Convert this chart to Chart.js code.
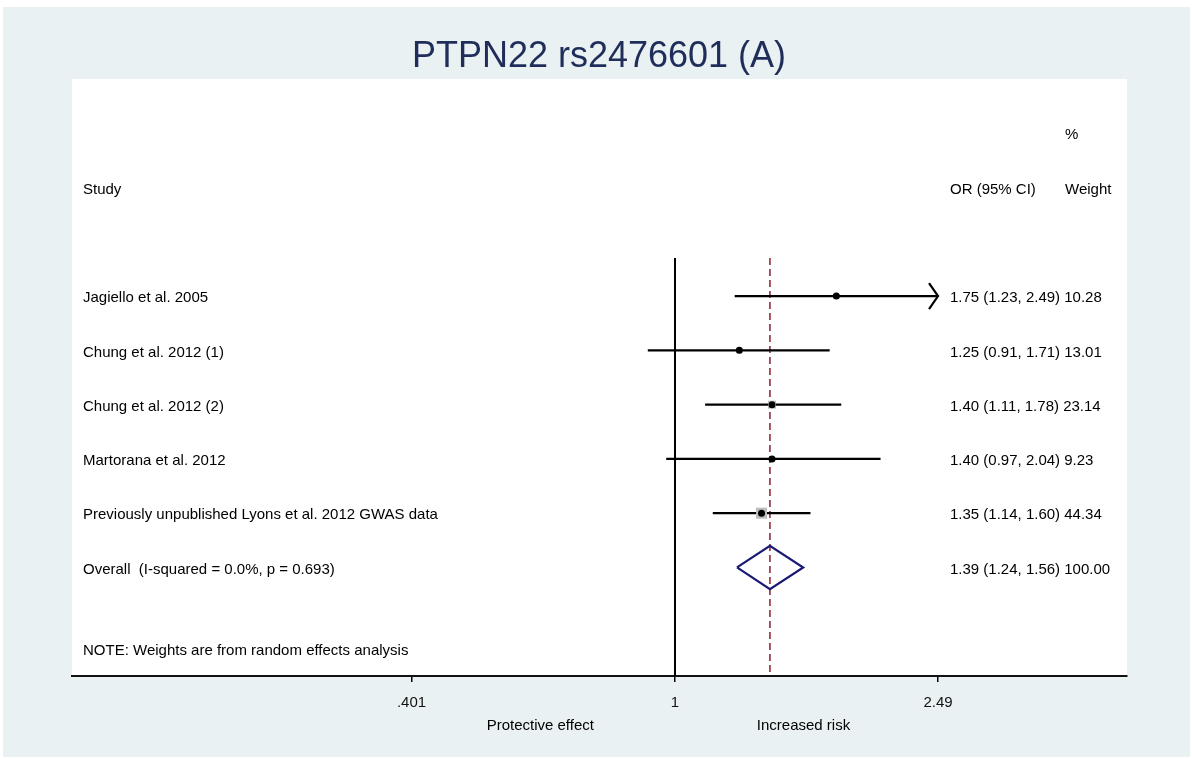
<!DOCTYPE html>
<html>
<head>
<meta charset="utf-8">
<title>PTPN22 rs2476601 (A)</title>
<script src="https://cdn.jsdelivr.net/npm/chart.js@4.4.1/dist/chart.umd.min.js"></script>
<style>
  html, body { margin: 0; padding: 0; background: #fff; }
  canvas { display: block; }
</style>
</head>
<body>
<canvas id="forest" width="1192" height="758"></canvas>
<script>
// study rows, top to bottom
const studies = [
  "Jagiello et al. 2005",
  "Chung et al. 2012 (1)",
  "Chung et al. 2012 (2)",
  "Martorana et al. 2012",
  "Previously unpublished Lyons et al. 2012 GWAS data"
]
const orEst = [1.75, 1.25, 1.40, 1.40, 1.35]
const ciLow = [1.23, 0.91, 1.11, 0.97, 1.14]
const ciHigh = [2.49, 1.71, 1.78, 2.04, 1.60]
const weights = [10.28, 13.01, 23.14, 9.23, 44.34]

const overallLabel = "Overall  (I-squared = 0.0%, p = 0.693)"
const overallEst = 1.39
const overallLow = 1.24
const overallHigh = 1.56

const tickValues = [0.401, 1, 2.49]
const tickLabels = [".401", "1", "2.49"]

const FONT = '"Liberation Sans", Arial, Helvetica, sans-serif'

function fmt(v) { return v.toFixed(2) }

// rows: 1..5 studies, 6 overall
const rowOf = (i) => i + 1
const overallRow = studies.length + 1

const datasets = []

// confidence interval lines
studies.forEach((s, i) => {
  datasets.push({
    data: [{ x: ciLow[i], y: rowOf(i) }, { x: ciHigh[i], y: rowOf(i) }],
    showLine: true,
    borderColor: '#000',
    borderWidth: 2.2,
    pointRadius: 0,
    order: 3
  })
})

// weight boxes (area proportional to weight)
datasets.push({
  data: studies.map((s, i) => ({ x: orEst[i], y: rowOf(i) })),
  pointStyle: 'rect',
  backgroundColor: '#bdbdbd',
  borderWidth: 0,
  pointRadius: (ctx) => 1.652 * Math.sqrt(weights[ctx.dataIndex]) / Math.SQRT2,
  order: 2
})

// point estimates
datasets.push({
  data: studies.map((s, i) => ({ x: orEst[i], y: rowOf(i) })),
  pointStyle: 'circle',
  backgroundColor: '#000',
  borderWidth: 0,
  pointRadius: 3.5,
  order: 1
})

// overall diamond
const dh = 0.4
datasets.push({
  data: [
    { x: overallLow, y: overallRow },
    { x: overallEst, y: overallRow - dh },
    { x: overallHigh, y: overallRow },
    { x: overallEst, y: overallRow + dh },
    { x: overallLow, y: overallRow }
  ],
  showLine: true,
  borderColor: '#1a1a75',
  borderWidth: 2.2,
  pointRadius: 0,
  order: 1
})

// line of no effect
datasets.push({
  data: [{ x: 1, y: 0.3 }, { x: 1, y: 8 }],
  showLine: true,
  borderColor: '#000',
  borderWidth: 2,
  pointRadius: 0,
  order: 4
})

// overall estimate line
datasets.push({
  data: [{ x: overallEst, y: 0.3 }, { x: overallEst, y: 8 }],
  showLine: true,
  borderColor: '#8c1f30',
  borderWidth: 1.5,
  borderDash: [7, 4],
  pointRadius: 0,
  order: 4
})

const backdrop = {
  id: 'backdrop',
  beforeDraw(chart) {
    const c = chart.ctx
    const a = chart.chartArea
    c.save()
    c.fillStyle = '#fff'
    c.fillRect(0, 0, chart.width, chart.height)
    c.fillStyle = '#eaf1f3'
    c.fillRect(3, 7, chart.width - 5, chart.height - 8)
    c.fillStyle = '#fff'
    c.fillRect(a.left, a.top, a.right - a.left, a.bottom - a.top)
    c.restore()
  }
}

const labels = {
  id: 'labels',
  afterDraw(chart) {
    const c = chart.ctx
    const a = chart.chartArea
    const x = chart.scales.x
    const y = chart.scales.y
    c.save()

    // title
    c.fillStyle = '#1f2d5a'
    c.font = '36px ' + FONT
    c.textAlign = 'center'
    c.textBaseline = 'alphabetic'
    c.fillText("PTPN22 rs2476601 (A)", 599, 67)

    c.fillStyle = '#000'
    c.font = '15px ' + FONT
    c.textAlign = 'left'
    c.textBaseline = 'middle'
    const lx = a.left + 11
    const cx = a.right - 177
    const wx = a.right - 62
    const off = 2
    const rowY = (r) => y.getPixelForValue(r) + off

    c.fillText("%", wx, rowY(-2))
    c.fillText("Study", lx, rowY(-1))
    c.fillText("OR (95% CI)", cx, rowY(-1))
    c.fillText("Weight", wx, rowY(-1))

    studies.forEach((s, i) => {
      const py = rowY(rowOf(i))
      c.fillText(s, lx, py)
      c.fillText(fmt(orEst[i]) + " (" + fmt(ciLow[i]) + ", " + fmt(ciHigh[i]) + ") " + fmt(weights[i]), cx, py)
    })
    const oy = rowY(overallRow)
    c.fillText(overallLabel, lx, oy)
    c.fillText(fmt(overallEst) + " (" + fmt(overallLow) + ", " + fmt(overallHigh) + ") 100.00", cx, oy)
    c.fillText("NOTE: Weights are from random effects analysis", lx, rowY(7.5))

    // arrow where the CI runs past the last tick
    c.strokeStyle = '#000'
    c.lineWidth = 2.2
    studies.forEach((s, i) => {
      if (ciHigh[i] >= tickValues[tickValues.length - 1]) {
        const px = x.getPixelForValue(ciHigh[i])
        const py = y.getPixelForValue(rowOf(i))
        c.beginPath()
        c.moveTo(px - 9, py - 13)
        c.lineTo(px, py)
        c.lineTo(px - 9, py + 13)
        c.stroke()
      }
    })

    // axis captions
    c.textAlign = 'center'
    c.textBaseline = 'alphabetic'
    c.fillText("Protective effect", x.getPixelForValue(Math.sqrt(tickValues[0])) - 3, 730)
    c.fillText("Increased risk", x.getPixelForValue(Math.sqrt(tickValues[2])) - 3, 730)
    c.restore()
  }
}

new Chart(document.getElementById('forest'), {
  type: 'scatter',
  data: { datasets: datasets },
  options: {
    responsive: false,
    animation: false,
    devicePixelRatio: 1,
    layout: { padding: { left: 72, right: 65, top: 79, bottom: 0 } },
    plugins: {
      legend: { display: false },
      tooltip: { enabled: false },
      title: { display: false }
    },
    scales: {
      x: {
        type: 'logarithmic',
        min: 0.1235,
        max: 4.796,
        afterBuildTicks: (scale) => { scale.ticks = tickValues.map(v => ({ value: v })) },
        afterFit: (scale) => { scale.height = 82 },
        ticks: {
          autoSkip: false,
          maxRotation: 0,
          padding: 12,
          color: '#111',
          font: { family: FONT, size: 15 },
          callback: (v) => {
            const k = tickValues.indexOf(v)
            return k >= 0 ? tickLabels[k] : ''
          }
        },
        grid: { display: true, drawOnChartArea: false, drawTicks: true, tickLength: 6, color: '#000', lineWidth: 1.5 },
        border: { display: true, color: '#111', width: 2 }
      },
      y: {
        type: 'linear',
        display: false,
        reverse: true,
        min: -3,
        max: 8
      }
    }
  },
  plugins: [backdrop, labels]
})
</script>
</body>
</html>
